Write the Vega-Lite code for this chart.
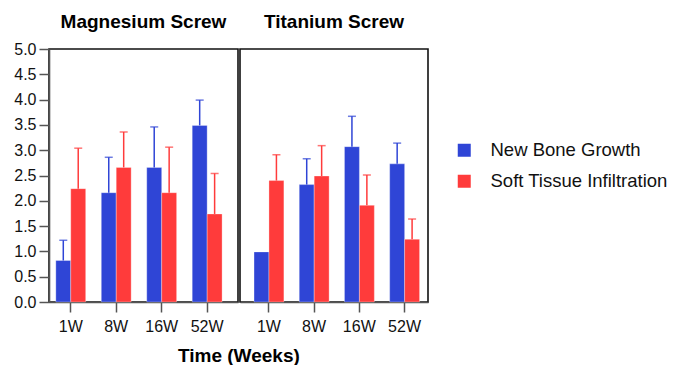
{
  "$schema": "https://vega.github.io/schema/vega-lite/v6.json",
  "padding": {"left": 12, "top": 12, "right": 5, "bottom": 2},
  "background": "white",
  "datasets": {
    "bars": [
      {"screw": "Magnesium Screw", "week": "1W", "measure": "New Bone Growth", "value": 0.82, "upper": 1.22},
      {"screw": "Magnesium Screw", "week": "1W", "measure": "Soft Tissue Infiltration", "value": 2.24, "upper": 3.04},
      {"screw": "Magnesium Screw", "week": "8W", "measure": "New Bone Growth", "value": 2.16, "upper": 2.86},
      {"screw": "Magnesium Screw", "week": "8W", "measure": "Soft Tissue Infiltration", "value": 2.66, "upper": 3.36},
      {"screw": "Magnesium Screw", "week": "16W", "measure": "New Bone Growth", "value": 2.66, "upper": 3.46},
      {"screw": "Magnesium Screw", "week": "16W", "measure": "Soft Tissue Infiltration", "value": 2.16, "upper": 3.06},
      {"screw": "Magnesium Screw", "week": "52W", "measure": "New Bone Growth", "value": 3.49, "upper": 3.99},
      {"screw": "Magnesium Screw", "week": "52W", "measure": "Soft Tissue Infiltration", "value": 1.74, "upper": 2.54},
      {"screw": "Titanium Screw", "week": "1W", "measure": "New Bone Growth", "value": 0.99, "upper": null},
      {"screw": "Titanium Screw", "week": "1W", "measure": "Soft Tissue Infiltration", "value": 2.4, "upper": 2.91},
      {"screw": "Titanium Screw", "week": "8W", "measure": "New Bone Growth", "value": 2.32, "upper": 2.83},
      {"screw": "Titanium Screw", "week": "8W", "measure": "Soft Tissue Infiltration", "value": 2.49, "upper": 3.09},
      {"screw": "Titanium Screw", "week": "16W", "measure": "New Bone Growth", "value": 3.07, "upper": 3.67},
      {"screw": "Titanium Screw", "week": "16W", "measure": "Soft Tissue Infiltration", "value": 1.91, "upper": 2.51},
      {"screw": "Titanium Screw", "week": "52W", "measure": "New Bone Growth", "value": 2.73, "upper": 3.14},
      {"screw": "Titanium Screw", "week": "52W", "measure": "Soft Tissue Infiltration", "value": 1.24, "upper": 1.64}
    ]
  },
  "title": {"text": "Time (Weeks)", "orient": "bottom", "anchor": "start", "frame": "group", "dx": 129, "fontSize": 19, "fontWeight": "bold", "font": "Liberation Sans", "color": "#000", "offset": 12},
  "spacing": 0,
  "hconcat": [
    {
      "width": 189,
      "height": 253,
      "data": {"name": "bars"},
      "transform": [{"filter": "datum.screw === 'Magnesium Screw'"}],
      "title": {"text": "Magnesium Screw", "offset": 9},
      "encoding": {
        "x": {
          "field": "week", "type": "nominal",
          "sort": ["1W", "8W", "16W", "52W"],
          "scale": {"paddingInner": 0.343, "paddingOuter": 0.25, "align": 0.3},
          "axis": {"title": null}
        },
        "xOffset": {"field": "measure", "type": "nominal", "sort": ["New Bone Growth", "Soft Tissue Infiltration"], "scale": {"paddingInner": 0}}
      },
      "layer": [
        {
          "mark": {"type": "bar", "stroke": "#ffffff", "strokeOpacity": 0.3, "strokeWidth": 1},
          "encoding": {
            "y": {
              "field": "value", "type": "quantitative",
              "scale": {"domain": [0, 5], "nice": false},
              "axis": {"title": null, "values": [0, 0.5, 1, 1.5, 2, 2.5, 3, 3.5, 4, 4.5, 5], "format": ".1f", "labelOverlap": false}
            },
            "color": {
              "field": "measure", "type": "nominal",
              "scale": {"domain": ["New Bone Growth", "Soft Tissue Infiltration"], "range": ["#2F45D6", "#FF3B3B"]},
              "legend": {"title": null, "orient": "none", "legendX": 406, "legendY": 92, "symbolType": "square", "symbolSize": 169, "symbolOpacity": 1, "labelFontSize": 18.5, "labelFont": "Liberation Sans", "labelColor": "#111", "labelLimit": 400, "rowPadding": 12, "labelOffset": 17, "symbolStrokeWidth": 0}
            }
          }
        },
        {
          "mark": {"type": "rule", "strokeWidth": 1.5},
          "encoding": {
            "y": {"field": "value", "type": "quantitative", "axis": {"title": null, "values": [0, 0.5, 1, 1.5, 2, 2.5, 3, 3.5, 4, 4.5, 5], "format": ".1f", "labelOverlap": false}},
            "y2": {"field": "upper"},
            "color": {"field": "measure", "type": "nominal"}
          }
        },
        {
          "mark": {"type": "tick", "size": 8, "thickness": 1.5, "orient": "horizontal"},
          "encoding": {
            "y": {"field": "upper", "type": "quantitative", "axis": {"title": null, "values": [0, 0.5, 1, 1.5, 2, 2.5, 3, 3.5, 4, 4.5, 5], "format": ".1f", "labelOverlap": false}},
            "color": {"field": "measure", "type": "nominal"}
          }
        }
      ]
    },
    {
      "width": 188,
      "height": 253,
      "data": {"name": "bars"},
      "transform": [{"filter": "datum.screw === 'Titanium Screw'"}],
      "title": {"text": "Titanium Screw", "offset": 17},
      "encoding": {
        "x": {
          "field": "week", "type": "nominal",
          "sort": ["1W", "8W", "16W", "52W"],
          "scale": {"paddingInner": 0.343, "paddingOuter": 0.25, "align": 0.62},
          "axis": {"title": null}
        },
        "xOffset": {"field": "measure", "type": "nominal", "sort": ["New Bone Growth", "Soft Tissue Infiltration"], "scale": {"paddingInner": 0}}
      },
      "layer": [
        {
          "mark": {"type": "bar", "stroke": "#ffffff", "strokeOpacity": 0.3, "strokeWidth": 1},
          "encoding": {
            "y": {
              "field": "value", "type": "quantitative",
              "scale": {"domain": [0, 5], "nice": false},
              "axis": null
            },
            "color": {"field": "measure", "type": "nominal"}
          }
        },
        {
          "mark": {"type": "rule", "strokeWidth": 1.5},
          "encoding": {
            "y": {"field": "value", "type": "quantitative", "axis": null},
            "y2": {"field": "upper"},
            "color": {"field": "measure", "type": "nominal"}
          }
        },
        {
          "mark": {"type": "tick", "size": 8, "thickness": 1.5, "orient": "horizontal"},
          "encoding": {
            "y": {"field": "upper", "type": "quantitative", "axis": null},
            "color": {"field": "measure", "type": "nominal"}
          }
        }
      ]
    }
  ],
  "config": {
    "view": {"stroke": "#111", "strokeWidth": 1.6},
    "font": "Liberation Sans",
    "title": {"fontSize": 19, "fontWeight": "bold", "color": "#000", "font": "Liberation Sans"},
    "axisX": {"labelAngle": 0, "labelFontSize": 16, "labelColor": "#111", "tickSize": 10, "tickColor": "#555", "domainColor": "#555", "labelPadding": 6, "tickWidth": 1.5, "domainWidth": 1.6},
    "axisY": {"grid": false, "labelFontSize": 16, "labelColor": "#111", "tickSize": 10, "tickColor": "#555", "domainColor": "#555", "tickWidth": 1.5, "domainWidth": 1.6, "labelPadding": 3}
  }
}
